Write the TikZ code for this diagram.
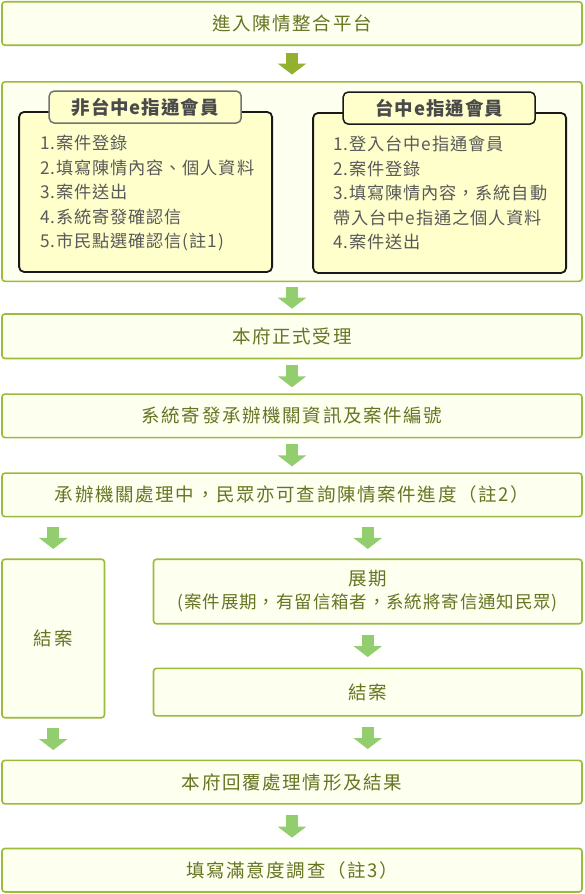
\documentclass[tikz,border=0pt]{standalone}
\usepackage{fontspec}
\newfontfamily\cjk[LetterSpace=9, Language=Chinese Traditional]{Noto Sans CJK TC}
\newfontfamily\cjkcard[LetterSpace=5, Language=Chinese Traditional]{Noto Sans CJK TC}
\usepackage{xcolor}
\usepackage{tikz}
\usetikzlibrary{arrows.meta, positioning}

\definecolor{stageline}{HTML}{9BBB3B}
\definecolor{stagefill}{HTML}{FDFFEF}
\definecolor{stagetext}{HTML}{667522}
\definecolor{firstflow}{HTML}{93B12E}
\definecolor{flowgreen}{HTML}{92CE6E}
\definecolor{cardfill}{HTML}{FFFFCC}
\definecolor{cardtext}{HTML}{595959}
\definecolor{tabtext}{HTML}{4A4A4A}

\begin{document}
\begin{tikzpicture}[
  x=1pt, y=1pt,
  every node/.style={font=\cjk\fontsize{18.5}{23}\selectfont},
  stage/.style={rectangle, rounded corners=3pt, draw=stageline, line width=1.6pt, fill=stagefill, text=stagetext, minimum width=580pt, minimum height=43.5pt, align=center, inner sep=0pt},
  cardbody/.style={rectangle, rounded corners=5pt, draw=black!90, line width=1.8pt, fill=cardfill, minimum width=253pt, minimum height=160pt, anchor=north west},
  cardtab/.style={rectangle, rounded corners=5pt, line width=1.5pt, fill=cardfill, text=tabtext, minimum width=192pt, minimum height=32pt, inner sep=0pt, font=\cjkcard\bfseries\fontsize{18.5}{23}\selectfont},
  cardlist/.style={anchor=north west, align=left, inner sep=0pt, text=cardtext, font=\cjkcard\fontsize{17.2}{24.5}\selectfont},
  flow/.style={draw=flowgreen, line width=12pt, -{Triangle[width=28pt,length=11pt]}, shorten <=#1, shorten >=#1}
]
\useasboundingbox (0,0) rectangle (584,-894);

% Main stages
\node[stage] (portal) at (292,-23.5) {進入陳情整合平台};
\node[stage, minimum height=199.5pt, below=35pt of portal] (intake) {};
\node[stage, minimum height=44.5pt, below=31pt of intake] (accept) {本府正式受理};
\node[stage, below=34pt of accept] (notify) {系統寄發承辦機關資訊及案件編號};
\node[stage, below=34pt of notify] (process) {承辦機關處理中，民眾亦可查詢陳情案件進度（註2）};

% Branches
\node[stage, minimum width=102.5pt, minimum height=158.5pt, below=41pt of process.south west, anchor=north west] (closeL) {結案};
\node[stage, minimum width=428.5pt, minimum height=64.5pt, below=41pt of process.south east, anchor=north east] (extend) {展期\\{\cjkcard\fontsize{17.5}{23}\selectfont(案件展期，有留信箱者，系統將寄信通知民眾)}};
\node[stage, minimum width=428.5pt, minimum height=47.5pt, below=43pt of extend] (closeR) {結案};

% Final stages
\node[stage, below=41pt of closeL.south west, anchor=north west] (reply) {本府回覆處理情形及結果};
\node[stage, below=43pt of reply] (survey) {填寫滿意度調查（註3）};

% Member cards
\node[cardbody] (lbody) at ([xshift=17pt,yshift=-30pt]intake.north west) {};
\node[cardtab, draw=black!55] (ltab) at ([xshift=127pt,yshift=4pt]lbody.north west) {非台中e指通會員};
\node[cardlist] (ltext) at ([xshift=22pt,yshift=-24pt]lbody.north west) {1.案件登錄\\2.填寫陳情內容、個人資料\\3.案件送出\\4.系統寄發確認信\\5.市民點選確認信(註1)};

\node[cardbody] (rbody) at ([xshift=311pt,yshift=-31pt]intake.north west) {};
\node[cardtab, draw=black!90] (rtab) at ([xshift=127pt,yshift=4pt]rbody.north west) {台中e指通會員};
\node[cardlist] (rtext) at ([xshift=21pt,yshift=-24pt]rbody.north west) {1.登入台中e指通會員\\2.案件登錄\\3.填寫陳情內容，系統自動\\帶入台中e指通之個人資料\\4.案件送出};

% Arrows
\draw[flow=6.5pt, draw=firstflow] (portal.south) -- (intake.north);
\draw[flow=4.5pt] (intake.south) -- (accept.north);
\draw[flow=6pt] (accept.south) -- (notify.north);
\draw[flow=6pt] (notify.south) -- (process.north);
\draw[flow=9.5pt] (closeL.north |- process.south) -- (closeL.north);
\draw[flow=9.5pt] (extend.north |- process.south) -- (extend.north);
\draw[flow=10.5pt] (extend.south) -- (closeR.north);
\draw[flow=9.5pt] (closeL.south) -- (closeL.south |- reply.north);
\draw[flow=10.5pt] (closeR.south) -- (closeR.south |- reply.north);
\draw[flow=10pt] (reply.south) -- (survey.north);
\end{tikzpicture}
\end{document}
